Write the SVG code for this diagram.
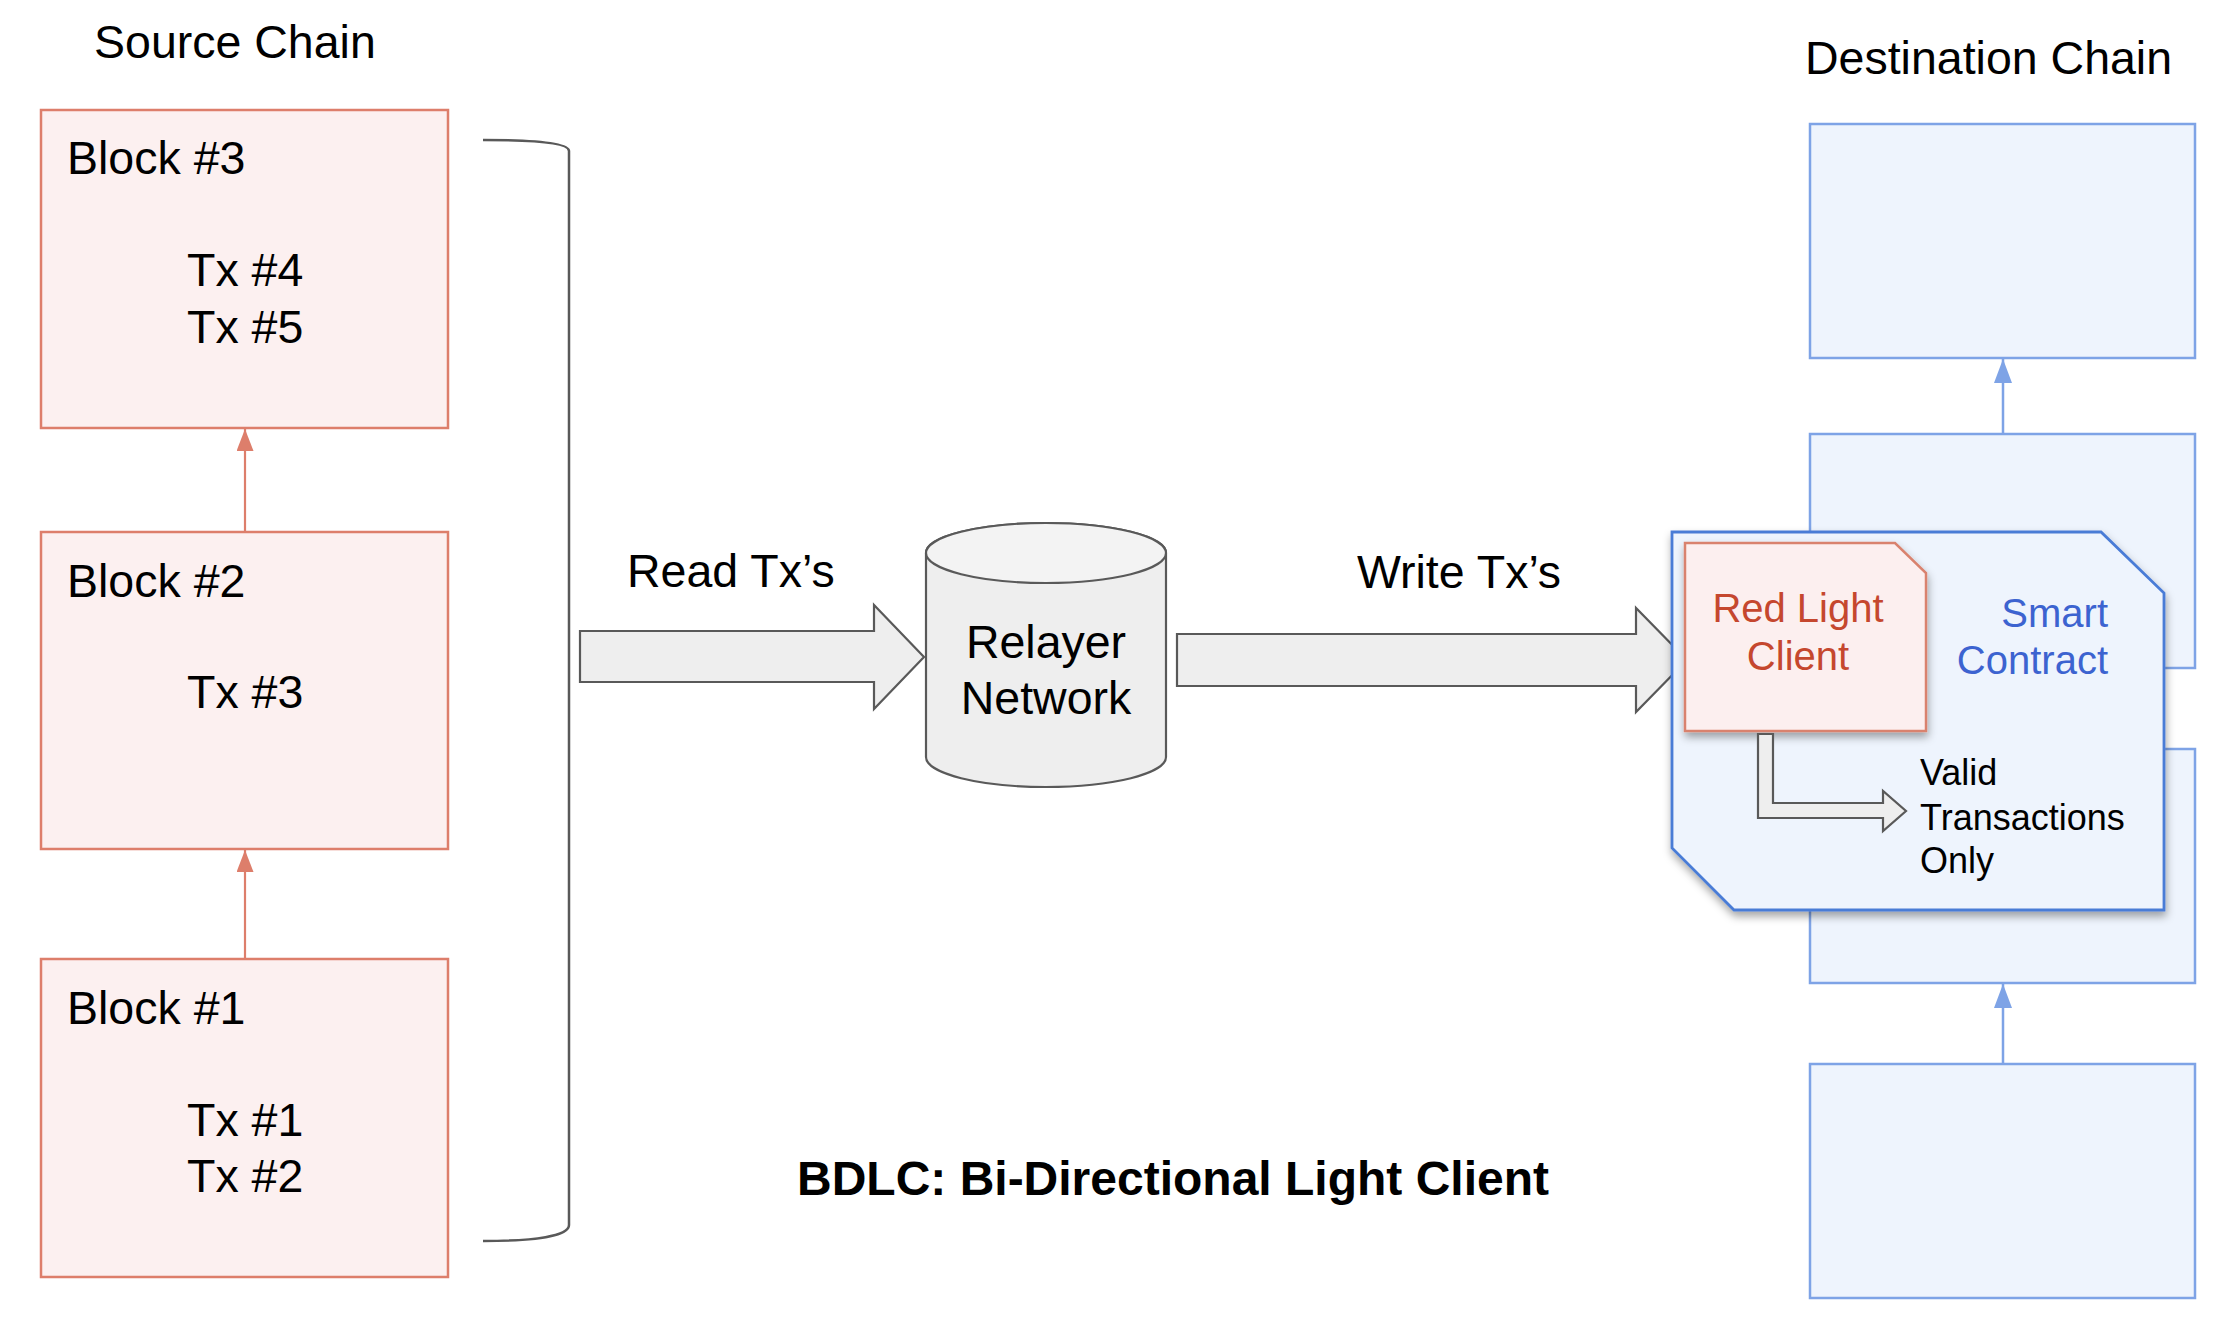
<svg xmlns="http://www.w3.org/2000/svg" width="2220" height="1322" viewBox="0 0 2220 1322">
<style>
text{font-family:"Liberation Sans",Arial,sans-serif;fill:#000}
.big{font-size:46.5px}
.mid{font-size:40px}
.sm{font-size:36px}
.src{fill:#fcf0f0;stroke:#dd7e6b;stroke-width:2.5}
.dst{fill:#eef4fd;stroke:#7ea3e6;stroke-width:2.5}
.gray{fill:#eeeeee;stroke:#595959;stroke-width:2.2;stroke-linejoin:miter}
.redline{stroke:#dd7e6b;stroke-width:2.2;fill:none}
.blueline{stroke:#7ea3e6;stroke-width:2.5;fill:none}
</style>
<defs>
<marker id="ahRed" markerUnits="userSpaceOnUse" markerWidth="24" markerHeight="18" refX="22" refY="8.5" orient="auto">
<path d="M0,0 L22,8.5 L0,17 z" fill="#dd7e6b"/>
</marker>
<marker id="ahBlue" markerUnits="userSpaceOnUse" markerWidth="26" markerHeight="20" refX="24" refY="9" orient="auto">
<path d="M0,0 L24,9 L0,18 z" fill="#7ea3e6"/>
</marker>
<filter id="shadow" x="-10%" y="-10%" width="125%" height="130%">
<feDropShadow dx="1" dy="5" stdDeviation="4" flood-color="#000" flood-opacity="0.35"/>
</filter>
</defs>

<g id="labels">
<text class="big" x="94" y="58">Source Chain</text>
<text class="big" x="1805" y="74">Destination Chain</text>
<text class="big" x="627" y="587">Read Tx’s</text>
<text class="big" x="1357" y="588">Write Tx’s</text>
<text x="797" y="1195" font-size="48" font-weight="bold">BDLC: Bi-Directional Light Client</text>
</g>

<g id="block3">
<rect class="src" x="41" y="110" width="407" height="318"/>
<text class="big" x="67" y="174">Block #3</text>
<text class="big" x="187" y="286">Tx #4</text>
<text class="big" x="187" y="343">Tx #5</text>
</g>
<g id="block2">
<rect class="src" x="41" y="532" width="407" height="317"/>
<text class="big" x="67" y="597">Block #2</text>
<text class="big" x="187" y="708">Tx #3</text>
</g>
<g id="block1">
<rect class="src" x="41" y="959" width="407" height="318"/>
<text class="big" x="67" y="1024">Block #1</text>
<text class="big" x="187" y="1136">Tx #1</text>
<text class="big" x="187" y="1192">Tx #2</text>
</g>

<g id="bracket">
<path d="M483,140 C535,140 569,143 569,151 L569,1225 C569,1236 535,1241 483,1241" fill="none" stroke="#595959" stroke-width="2.5"/>
</g>

<g id="relayer">
<path class="gray" d="M926,553 L926,757 A120,30 0 0 0 1166,757 L1166,553 A120,30 0 0 0 926,553 z"/>
<ellipse cx="1046" cy="553" rx="120" ry="30" fill="#f3f3f3" stroke="#595959" stroke-width="2.2"/>
<text class="big" x="1046" y="658" text-anchor="middle">Relayer</text>
<text class="big" x="1046" y="714" text-anchor="middle">Network</text>
</g>

<g id="dest-top"><rect class="dst" x="1810" y="124" width="385" height="234"/></g>
<g id="dest-a"><rect class="dst" x="1810" y="434" width="385" height="234"/></g>
<g id="dest-b"><rect class="dst" x="1810" y="749" width="385" height="234"/></g>
<g id="dest-bottom"><rect class="dst" x="1810" y="1064" width="385" height="234"/></g>

<g id="connectors">
<line class="redline" x1="245" y1="532" x2="245" y2="429" marker-end="url(#ahRed)"/>
<line class="redline" x1="245" y1="959" x2="245" y2="850" marker-end="url(#ahRed)"/>
<line class="blueline" x1="2003" y1="434" x2="2003" y2="359" marker-end="url(#ahBlue)"/>
<line class="blueline" x1="2003" y1="1064" x2="2003" y2="984" marker-end="url(#ahBlue)"/>
<polygon id="read-arrow" class="gray" points="580,631 874,631 874,605 924,657 874,709 874,682 580,682"/>
<polygon id="write-arrow" class="gray" points="1177,634 1636,634 1636,608 1687,660 1636,712 1636,686 1177,686"/>
</g>

<g id="smart-contract">
<polygon points="1672,532 2101,532 2164,593 2164,910 1734,910 1672,848" fill="#eef4fd" stroke="#4a7bd6" stroke-width="2.8" filter="url(#shadow)"/>
<text class="mid" x="2108" y="627" text-anchor="end" style="fill:#3c63d0">Smart</text>
<text class="mid" x="2108" y="674" text-anchor="end" style="fill:#3c63d0">Contract</text>
</g>

<g id="red-light-client">
<polygon points="1685,543 1895,543 1926,573 1926,731 1685,731" fill="#fcefef" stroke="#d9826e" stroke-width="2.5" filter="url(#shadow)"/>
<text class="mid" x="1798" y="622" text-anchor="middle" style="fill:#c5472e">Red Light</text>
<text class="mid" x="1798" y="670" text-anchor="middle" style="fill:#c5472e">Client</text>
</g>

<g id="valid-arrow">
<polygon class="gray" points="1758,734 1758,818 1883,818 1883,831 1906,811 1883,791 1883,803 1773,803 1773,734"/>
</g>
<g id="valid-label">
<text class="sm" x="1920" y="785">Valid</text>
<text class="sm" x="1920" y="830">Transactions</text>
<text class="sm" x="1920" y="873">Only</text>
</g>
</svg>
